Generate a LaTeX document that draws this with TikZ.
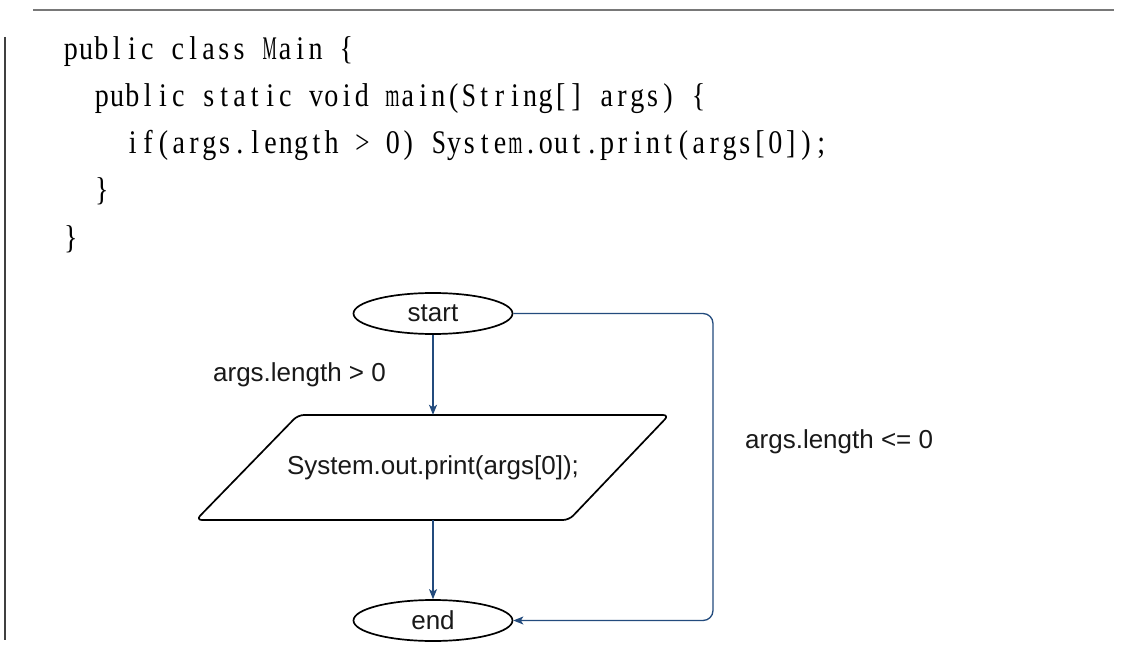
\documentclass[tikz,border=0pt]{standalone}
\usepackage{fontspec}
\usepackage{graphicx}
\setmainfont{Liberation Sans}
\newfontfamily\codefont[FakeStretch=0.85]{Liberation Serif}
\usetikzlibrary{shapes.geometric,arrows.meta}
\definecolor{connblue}{RGB}{35,75,125}
\definecolor{rulegray}{RGB}{120,120,120}
\newlength\pitch
\setlength\pitch{15.3pt}
\newlength\maxglyph
\setlength\maxglyph{14.2pt}
\newsavebox\cellbox
\def\cell#1{\sbox\cellbox{#1}\ifdim\wd\cellbox>\maxglyph\makebox[\pitch][c]{\resizebox{\maxglyph}{\height}{\usebox\cellbox}}\else\makebox[\pitch][c]{\usebox\cellbox}\fi}
\def\monoend{monoend-marker}
\def\mono#1{\monoloop#1\monoend}
\def\monoloop#1{\ifx#1\monoend\else\cell{#1}\expandafter\monoloop\fi}
\tikzset{
  code/.style={anchor=base west, inner sep=0pt, font=\codefont\fontsize{33}{38}\selectfont},
  term/.style={ellipse, draw=black, line width=1.7pt, minimum width=159, minimum height=41, inner sep=0pt, font=\fontsize{26}{30}\selectfont, text=black!90},
  ptext/.style={rectangle, inner sep=0pt, minimum width=373, minimum height=105, font=\fontsize{26}{30}\selectfont, text=black!90},
  pshape/.style={draw=black, line width=1.7pt, rounded corners=6pt},
  lbl/.style={inner sep=0pt, font=\fontsize{26}{30}\selectfont, text=black!90},
  conn/.style={draw=connblue, line width=1.3pt, -{Stealth[length=10pt, width=8pt, inset=2.5pt]}},
}
\begin{document}
\begin{tikzpicture}[x=1pt, y=-1pt]
\fill[white] (0,0) rectangle (1137,660);
\useasboundingbox (0,0) rectangle (1137,660);
% rules
\draw[rulegray, line width=2.5pt] (33,10) -- (1114,10);
\draw[black!75, line width=1.2pt] (5,37) -- (5,640);
% code
\node[code] (l1) at (63,60) {\mono{public~class~Main~\{}};
\node[code] (l2) at (94,107) {\mono{public~static~void~main(String[]~args)~\{}};
\node[code] (l3) at (125,154) {\mono{if(args.length~>~0)~System.out.print(args[0]);}};
\node[code] (l4) at (94,201) {\mono{\}}};
\node[code] (l5) at (63,248) {\mono{\}}};
% flowchart
\node[term] (start) at (433,313.5) {start};
\node[ptext] (print) at (433,467.5) {System.out.print(args[0]);};
\draw[pshape] ([shift={(-135,-52.5)}]print.center) -- ([shift={(236,-52.5)}]print.center) -- ([shift={(136,52.5)}]print.center) -- ([shift={(-237,52.5)}]print.center) -- cycle;
\node[term] (end) at (433,620.5) {end};
\node[lbl] (yes) at (299.5,375) {args.length > 0};
\node[lbl, anchor=west] (no) at (745,442) {args.length <= 0};
\coordinate (rt) at (713,313.5);
\coordinate (rb) at (713,620.5);
\draw[conn] (start) -- (print);
\draw[conn] (print) -- (end);
\draw[conn, rounded corners=10pt] (start.east) -- (rt) -- (rb) -- (end.east);
\end{tikzpicture}
\end{document}
